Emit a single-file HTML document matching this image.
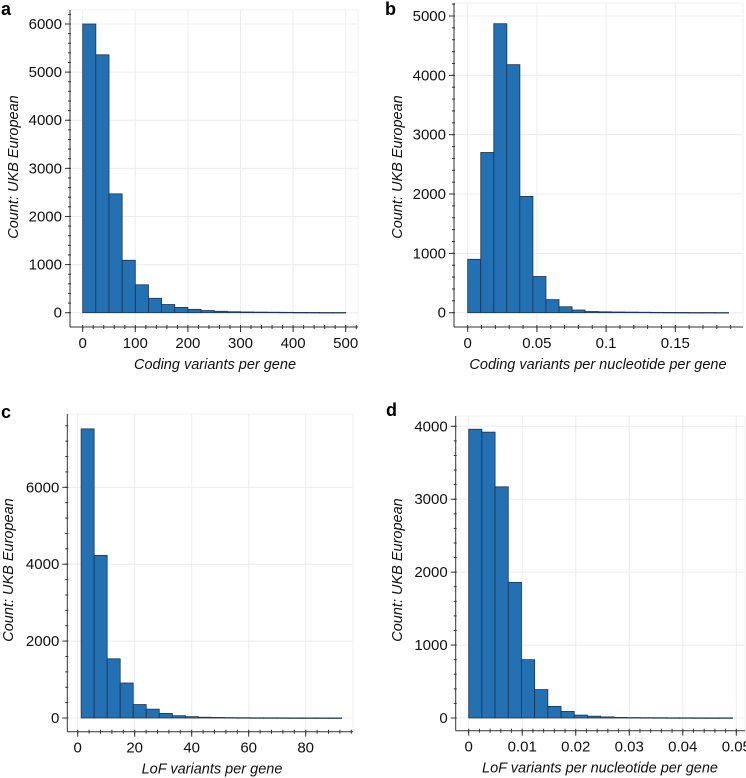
<!DOCTYPE html>
<html><head><meta charset="utf-8">
<style>
html,body{margin:0;padding:0;background:#fff;}
svg{display:block;font-family:"Liberation Sans",sans-serif;}
.tick{font-size:15px;fill:#111;}
.title{font-size:14.5px;font-style:italic;fill:#111;}
.letter{font-size:18px;font-weight:bold;fill:#000;}
</style></head>
<body>
<svg id="fig" width="746" height="778" viewBox="0 0 746 778" xmlns="http://www.w3.org/2000/svg"></svg>
<script>
// Panel a
const aCounts = [6000,5360,2470,1090,580,300,170,110,70,45,30,20,15,12,10,8,6,5,4,4];
const aXTicks = [0,100,200,300,400,500];
const aYTicks = [0,1000,2000,3000,4000,5000,6000];
// Panel b
const bCounts = [900,2700,4870,4180,1960,610,220,100,45,20,15,12,10,8,6,5,4,3,3,2];
const bXTicks = [0,0.05,0.1,0.15];
const bXTickLabels = ["0","0.05","0.1","0.15"];
const bYTicks = [0,1000,2000,3000,4000,5000];
// Panel c
const cCounts = [7520,4230,1540,910,350,230,120,60,35,20,15,10,8,6,5,4,3,3,2,2];
const cXTicks = [0,20,40,60,80];
const cYTicks = [0,2000,4000,6000];
// Panel d
const dCounts = [3960,3920,3170,1860,800,390,160,90,40,25,15,8,6,5,4,3,3,2,2,2];
const dXTicks = [0,0.01,0.02,0.03,0.04,0.05];
const dXTickLabels = ["0","0.01","0.02","0.03","0.04","0.05"];
const dYTicks = [0,1000,2000,3000,4000];

const NS="http://www.w3.org/2000/svg";
const svg=document.getElementById('fig');
function mk(tag,attrs,parent){const e=document.createElementNS(NS,tag);for(const k in attrs)e.setAttribute(k,attrs[k]);(parent||svg).appendChild(e);return e;}

function panel(o){
  const g=mk('g',{});
  
  
  const sx=v=>o.x0+(v-o.xv0)*(o.x1-o.x0)/(o.xv1-o.xv0);
  const sy=v=>o.y0-(v)*(o.y0-o.y1)/o.yv1;
  const grid=mk('g',{},g);
  
  
  o.xt.forEach(v=>mk('line',{x1:sx(v),x2:sx(v),y1:o.top,y2:o.axY,stroke:'#ececec','stroke-width':1},grid));
  o.yt.forEach(v=>mk('line',{x1:o.axX,x2:o.right,y1:sy(v),y2:sy(v),stroke:'#ececec','stroke-width':1},grid));
  mk('line',{x1:o.right,x2:o.right,y1:o.top,y2:o.axY,stroke:'#f0f0f0'},grid);
  mk('line',{x1:o.axX,x2:o.right,y1:o.top,y2:o.top,stroke:'#f0f0f0'},grid);
  const bars=mk('g',{},g);
  
  
  const n=o.counts.length, w=(o.bEnd-o.bStart)/n;
  o.counts.forEach((c,i)=>{
    const xa=sx(o.bStart+i*w), xb=sx(o.bStart+(i+1)*w);
    const r=mk('rect',{x:xa,y:sy(c),width:xb-xa,height:Math.max(sy(0)-sy(c),0.5),fill:'#2370b3',stroke:'#1b3550','stroke-width':0.8},bars);
    
    
  });
  const ax=mk('g',{},g);
  
  
  mk('line',{x1:o.axX,x2:o.axX,y1:o.top,y2:o.axY,stroke:'#333','stroke-width':1},ax);
  mk('line',{x1:o.axX,x2:o.right,y1:o.axY,y2:o.axY,stroke:'#333','stroke-width':1},ax);
  const xs=(o.xt[1]-o.xt[0])/5;
  for(let v=o.xt[0];sx(v)<=o.right;v+=xs){mk('line',{x1:sx(v),x2:sx(v),y1:o.axY-2,y2:o.axY+2,stroke:'#333'},ax);}
  o.xt.forEach(v=>mk('line',{x1:sx(v),x2:sx(v),y1:o.axY,y2:o.axY+5,stroke:'#333'},ax));
  const ys=(o.yt[1]-o.yt[0])/5;
  for(let v=o.yt[0];sy(v)>=o.top;v+=ys){mk('line',{x1:o.axX-2,x2:o.axX+1,y1:sy(v),y2:sy(v),stroke:'#333'},ax);}
  o.yt.forEach(v=>mk('line',{x1:o.axX-5,x2:o.axX,y1:sy(v),y2:sy(v),stroke:'#333'},ax));
  o.xt.forEach((v,i)=>{const t=mk('text',{x:sx(v),y:o.axY+21,'text-anchor':'middle',class:'tick'},ax);t.textContent=o.xl?o.xl[i]:String(v);
    
    });
  o.yt.forEach(v=>{const t=mk('text',{x:o.axX-8,y:sy(v)+5,'text-anchor':'end',class:'tick'},ax);t.textContent=String(v);
    
    });
  const xt=mk('text',{x:o.xTitleX,y:o.axY+42,'text-anchor':'middle',class:'title'},g);xt.textContent=o.xTitle;
  
  
  const yt=mk('text',{x:0,y:0,'text-anchor':'middle',class:'title',transform:`translate(${o.yTitleX},${o.yTitleY}) rotate(-90)`},g);yt.textContent='Count: UKB European';
  
  
  const L=mk('text',{x:o.lx,y:o.ly,class:'letter'},g);L.textContent=o.letter;
  
  
}

panel({letter:'a',counts:aCounts,xt:aXTicks,yt:aYTicks,x0:82.7,x1:345.7,xv0:0,xv1:500,y0:312.7,y1:24,yv1:6000,
  bStart:0,bEnd:500,axX:70,axY:327,top:10,right:358,xTitle:'Coding variants per gene',xTitleX:215,yTitleX:18,yTitleY:167,lx:1,ly:15});
panel({letter:'b',counts:bCounts,xt:bXTicks,xl:bXTickLabels,yt:bYTicks,x0:467.7,x1:675.3,xv0:0,xv1:0.15,y0:312.7,y1:16,yv1:5000,
  bStart:0,bEnd:0.1885,axX:454,axY:327,top:3,right:743,xTitle:'Coding variants per nucleotide per gene',xTitleX:598,yTitleX:402,yTitleY:167,lx:385,ly:15});
panel({letter:'c',counts:cCounts,xt:cXTicks,yt:cYTicks,x0:77.7,x1:305.7,xv0:0,xv1:80,y0:718,y1:487.3,yv1:6000,
  bStart:1.2,bEnd:92.6,axX:67.3,axY:731.7,top:414,right:353,xTitle:'LoF variants per gene',xTitleX:212,yTitleX:13,yTitleY:570,lx:1,ly:418});
panel({letter:'d',counts:dCounts,xt:dXTicks,xl:dXTickLabels,yt:dYTicks,x0:468.7,x1:736.3,xv0:0,xv1:0.05,y0:718,y1:426.3,yv1:4000,
  bStart:0,bEnd:0.0493,axX:455.7,axY:730.7,top:416,right:745,xTitle:'LoF variants per nucleotide per gene',xTitleX:600,yTitleX:402,yTitleY:570,lx:386,ly:416});
</script>
</body></html>
